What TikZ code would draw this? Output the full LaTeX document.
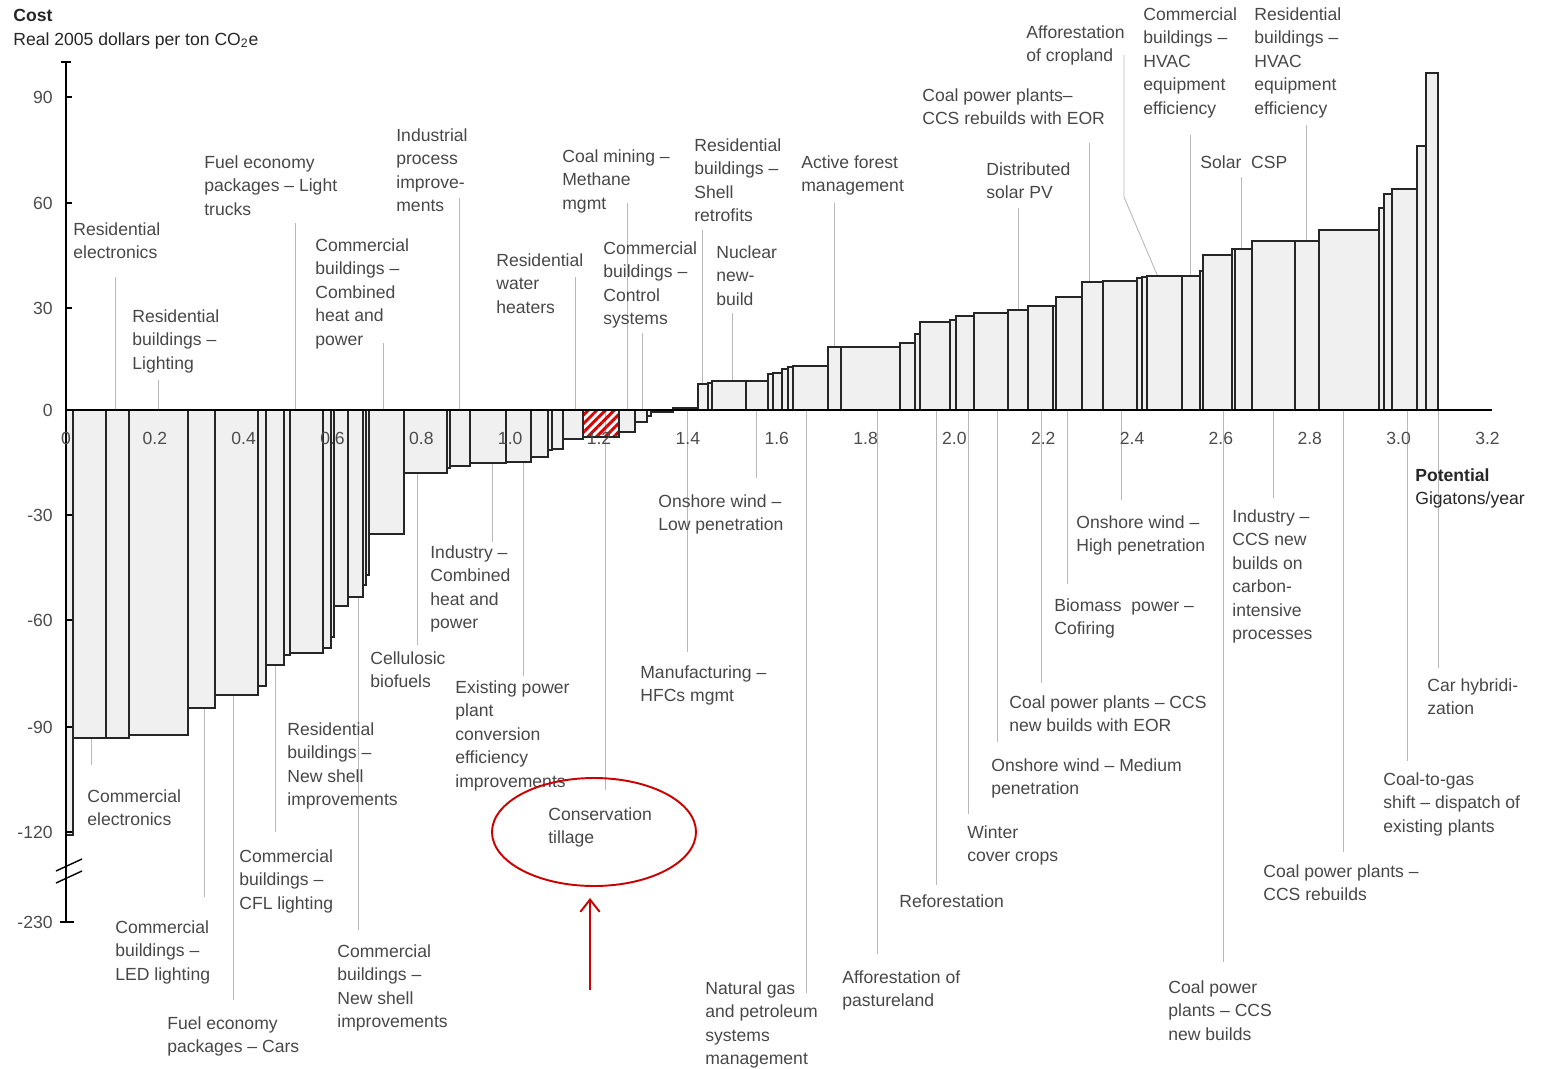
\documentclass[tikz,border=0pt]{standalone}
\usepackage{fontspec}
\setmainfont{Liberation Sans}
\usetikzlibrary{arrows.meta,patterns.meta}

\begin{document}
\begin{tikzpicture}[x=0.02cm, y=-0.02cm,
    bar/.style = {draw=black!85, fill=black!6, line width=0.8pt},
    leader/.style = {draw=black!28, line width=0.5pt},
    lbl/.style = {anchor=north west, inner sep=0pt, align=left, text=black!72, font=\fontsize{10}{13.4}\selectfont},
    num/.style = {inner sep=0pt, text=black!70, font=\fontsize{10}{12}\selectfont}]

    \useasboundingbox (0,0) rectangle (1554,1068);
    % Origin of the axes
    \coordinate (O) at (66,410);
    \coordinate (E) at (1492,410);

    % Leader lines from labels above the axis
    \foreach \x/\y in {115/277, 158/380, 295/223, 383/343, 459/198, 575/277, 627/203, 642/333, 702/230, 732/313, 834/203, 1018/208, 1089/143, 1190/135, 1241/177, 1306/125}
        \draw[leader] (\x,\y) -- (\x,410);
    \draw[leader] (1124,55) -- (1124,197) -- (1158,277);
    % Leader lines to labels below the axis
    \foreach \x/\y in {91/765, 204/897, 233/1000, 275/832, 358/930, 417/645, 492/542, 523/676, 605/790, 687/652, 756/478, 806/993, 877/954, 936/885, 968/814, 997/742, 1041/683, 1067/584, 1121/500, 1223/962, 1273/498, 1343/852, 1407/761, 1438/668}
        \draw[leader] (\x,410) -- (\x,\y);

    % Draw the bars (left edge / right edge / height)
    \foreach \a/\b/\h in {66/73/835, 73/106/738, 106/129/738, 129/188/735, 188/215/708, 215/258/695, 258/266/686, 266/284/665, 284/290/655, 290/323/653, 323/331/648, 331/334/637, 334/348/606, 348/363/597, 363/366/585, 366/369/575, 369/404/534, 404/447/473, 447/450/468, 450/470/466, 470/506/463, 506/531/462, 531/548/457, 548/552/450, 552/563/449, 563/583/439, 619/635/432, 635/647/422, 647/651/416, 651/673/412,
        673/698/408, 698/708/384, 708/712/383, 712/746/381, 746/768/381, 768/773/374, 773/782/373, 782/788/369, 788/793/367, 793/828/366, 828/841/347, 841/900/347, 900/915/343, 915/920/334, 920/950/322, 950/956/320, 956/974/316, 974/1008/313, 1008/1028/310, 1028/1053/306, 1053/1056/306, 1056/1082/297, 1082/1103/282, 1103/1137/281, 1137/1142/278, 1142/1147/277,
        1147/1182/276, 1182/1200/276, 1200/1203/271, 1203/1232/255, 1232/1235/249, 1235/1252/249, 1252/1295/241, 1295/1319/241, 1319/1379/230, 1379/1384/208, 1384/1392/194, 1392/1417/189, 1417/1426/146, 1426/1438/73}
        \draw[bar] (\a,410) rectangle (\b,\h);
    % Conservation tillage bar
    \draw[draw=black!85, line width=0.8pt, pattern={Lines[angle=45,distance=3.5pt,line width=1.7pt]}, pattern color=red!85!black] (583,410) rectangle (619,437);

    % Axes
    \draw[line width=1.1pt] (66,62) -- (66,922);
    \draw[line width=1.1pt] (O) -- (E);
    \draw[line width=0.8pt] (61,62) -- (71,62);
    \draw[line width=0.8pt] (60,922) -- (74,922);
    % Axis break
    \draw[line width=0.8pt] (56,871) -- (82,859);
    \draw[line width=0.8pt] (56,883) -- (82,871);

    % Ticks and numbers
    \foreach \v/\y in {90/97, 60/203, 30/308, 0/410, -30/515, -60/620, -90/727, -120/832, -230/922} {
        \draw[line width=0.8pt] (66,\y) -- (72,\y);
        \node[num, anchor=east] (ytick\y) at (53,\y) {\v};
    }
    \foreach \v [count=\i] in {0,0.2,0.4,0.6,0.8,1.0,1.2,1.4,1.6,1.8,2.0,2.2,2.4,2.6,2.8,3.0,3.2}
        \node[num] (xtick\i) at ({66+(\i-1)*88.84},438) {\v};

    % Axis titles
    \node[lbl, text=black!85] (cost) at (13,9) {\textbf{Cost}\\Real 2005 dollars per ton CO\textsubscript{2}e};
    \node[lbl, text=black!85] (potential) at (1415,468) {\textbf{Potential}\\Gigatons/year};

    % Labels above the axis
    \node[lbl] (resElec) at (73,222) {Residential\\electronics};
    \node[lbl] (resLight) at (132,309) {Residential\\buildings --\\Lighting};
    \node[lbl] (fuelTruck) at (204,155) {Fuel economy\\packages -- Light\\trucks};
    \node[lbl] (comCHP) at (315,238) {Commercial\\buildings --\\Combined\\heat and\\power};
    \node[lbl] (indProc) at (396,128) {Industrial\\process\\improve-\\ments};
    \node[lbl] (resWater) at (496,253) {Residential\\water\\heaters};
    \node[lbl] (coalMeth) at (562,149) {Coal mining --\\Methane\\mgmt};
    \node[lbl] (comCtrl) at (603,241) {Commercial\\buildings --\\Control\\systems};
    \node[lbl] (resShell) at (694,138) {Residential\\buildings --\\Shell\\retrofits};
    \node[lbl] (nuclear) at (716,245) {Nuclear\\new-\\build};
    \node[lbl] (forest) at (801,155) {Active forest\\management};
    \node[lbl] (coalEOR) at (922,88) {Coal power plants--\\CCS rebuilds with EOR};
    \node[lbl] (solarPV) at (986,162) {Distributed\\solar PV};
    \node[lbl] (affCrop) at (1026,25) {Afforestation\\of cropland};
    \node[lbl] (comHVAC) at (1143,7) {Commercial\\buildings --\\HVAC\\equipment\\efficiency};
    \node[lbl] (resHVAC) at (1254,7) {Residential\\buildings --\\HVAC\\equipment\\efficiency};
    \node[lbl] (solarCSP) at (1200,155) {Solar~~CSP};

    % Labels below the axis
    \node[lbl] (comElec) at (87,789) {Commercial\\electronics};
    \node[lbl] (comLED) at (115,920) {Commercial\\buildings --\\LED lighting};
    \node[lbl] (fuelCar) at (167,1016) {Fuel economy\\packages -- Cars};
    \node[lbl] (comCFL) at (239,849) {Commercial\\buildings --\\CFL lighting};
    \node[lbl] (resNewShell) at (287,722) {Residential\\buildings --\\New shell\\improvements};
    \node[lbl] (comNewShell) at (337,944) {Commercial\\buildings --\\New shell\\improvements};
    \node[lbl] (cellulosic) at (370,651) {Cellulosic\\biofuels};
    \node[lbl] (indCHP) at (430,545) {Industry --\\Combined\\heat and\\power};
    \node[lbl] (existPower) at (455,680) {Existing power\\plant\\conversion\\efficiency\\improvements};
    \node[lbl] (tillage) at (548,807) {Conservation\\tillage};
    \node[lbl] (windLow) at (658,494) {Onshore wind --\\Low penetration};
    \node[lbl] (hfc) at (640,665) {Manufacturing --\\HFCs mgmt};
    \node[lbl] (natGas) at (705,981) {Natural gas\\and petroleum\\systems\\management};
    \node[lbl] (affPasture) at (842,970) {Afforestation of\\pastureland};
    \node[lbl] (reforest) at (899,894) {Reforestation};
    \node[lbl] (winter) at (967,825) {Winter\\cover crops};
    \node[lbl] (windMed) at (991,758) {Onshore wind -- Medium\\penetration};
    \node[lbl] (coalNewEOR) at (1009,695) {Coal power plants -- CCS\\new builds with EOR};
    \node[lbl] (biomass) at (1054,598) {Biomass~~power --\\Cofiring};
    \node[lbl] (windHigh) at (1076,515) {Onshore wind --\\High penetration};
    \node[lbl] (indCCS) at (1232,509) {Industry --\\CCS new\\builds on\\carbon-\\intensive\\processes};
    \node[lbl] (coalNew) at (1168,980) {Coal power\\plants -- CCS\\new builds};
    \node[lbl] (coalRebuild) at (1263,864) {Coal power plants --\\CCS rebuilds};
    \node[lbl] (coalGas) at (1383,772) {Coal-to-gas\\shift -- dispatch of\\existing plants};
    \node[lbl] (carHybrid) at (1427,678) {Car hybridi-\\zation};

    % Hand-drawn mark around conservation tillage
    \draw[red!80!black, line width=1.1pt] (594,832) ellipse [x radius=102, y radius=54];
    \coordinate (tail) at (590,990);
    \coordinate (tip) at (590,898);
    \draw[red!80!black, line width=1.1pt, -{Straight Barb[length=7pt,width=11pt]}] (tail) -- (tip);
\end{tikzpicture}
\end{document}
